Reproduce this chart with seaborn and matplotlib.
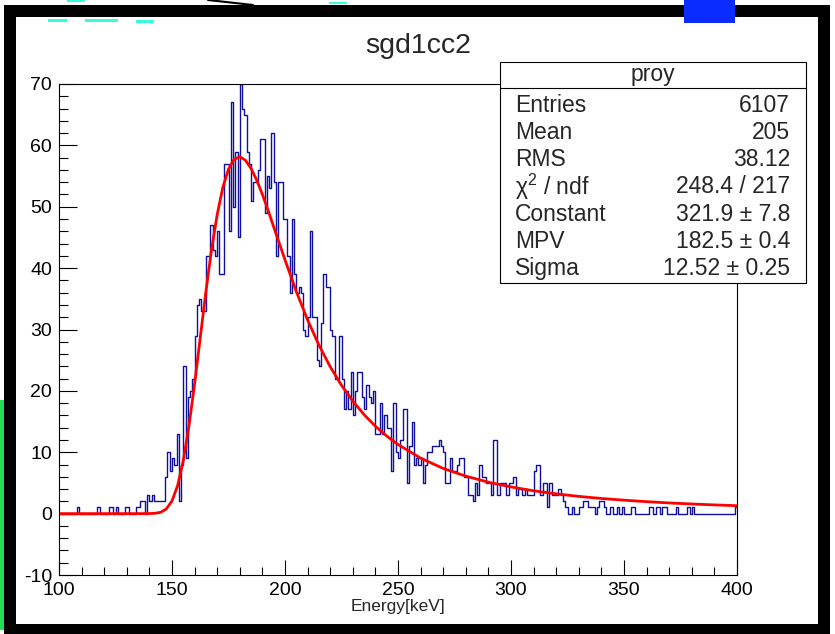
import numpy as np
import pandas as pd
import seaborn as sns
import matplotlib.pyplot as plt
from matplotlib.patches import Rectangle
from matplotlib.ticker import MultipleLocator

# -----------------------------
# DATA (1 keV bins, 100..400 keV)
# -----------------------------
counts_100 = [0, 0, 0, 0, 0, 0, 0, 0, 1, 0, 0, 0, 0, 0, 0, 0, 0, 1, 0, 0,
              0, 0, 1, 1, 0, 1, 0, 0, 0, 1, 1, 0, 0, 0, 1, 1, 2, 2, 0, 3,
              2, 3, 2, 2, 2, 2, 2, 6, 10, 7]
counts_150 = [9, 8, 13, 2, 8, 24, 9, 19, 20, 22, 29, 34, 35, 33, 33, 42, 42, 47, 43, 42,
              46, 39, 39, 57, 57, 46, 67, 50, 59, 45, 70, 66, 65, 59, 57, 51, 54, 54, 56, 61,
              61, 49, 55, 53, 62, 54, 42, 54, 54, 48]
counts_200 = [48, 42, 36, 48, 39, 36, 37, 36, 30, 29, 32, 46, 32, 32, 25, 24, 31, 39, 37, 37,
              30, 29, 22, 22, 29, 22, 17, 20, 17, 23, 16, 20, 23, 23, 19, 17, 21, 19, 18, 20,
              13, 13, 18, 13, 16, 14, 14, 7, 18, 10]
counts_250 = [9, 12, 17, 17, 5, 11, 15, 8, 9, 8, 9, 5, 8, 10, 10, 11, 11, 11, 12, 11,
              10, 5, 5, 9, 7, 7, 8, 9, 9, 6, 6, 3, 3, 2, 5, 3, 8, 6, 6, 5,
              5, 3, 12, 12, 3, 5, 5, 5, 3, 5]
counts_300 = [5, 6, 3, 4, 4, 3, 4, 3, 3, 3, 7, 8, 8, 3, 5, 5, 1, 5, 3, 3,
              3, 4, 3, 2, 1, 0, 0, 1, 0, 0, 1, 1, 2, 2, 1, 1, 1, 0, 1, 2,
              2, 1, 0, 0, 1, 0, 0, 1, 0, 1]
counts_350 = [0, 0, 0, 1, 1, 0, 0, 0, 0, 0, 0, 1, 1, 0, 1, 1, 0, 1, 1, 0,
              0, 0, 0, 1, 0, 0, 0, 0, 1, 0, 1, 0, 0, 0, 0, 0, 0, 0, 0, 0,
              0, 0, 0, 0, 0, 0, 0, 0, 0, 1]

# Landau fit curve
fit_x = [100, 135, 140, 142.5, 145, 147.5, 150, 152.5, 155, 157.5, 160, 162.5, 165, 167.5,
         170, 172.5, 175, 177.5, 180, 182.5, 185, 187.5, 190, 192.5, 195, 197.5, 200,
         205, 210, 215, 220, 225, 230, 235, 240, 245, 250, 260, 270, 280, 290, 300,
         310, 320, 330, 340, 350, 360, 370, 380, 390, 400]
fit_y = [0, 0, 0.01, 0.05, 0.22, 0.77, 2.07, 4.59, 8.65, 14.26, 21.13, 28.67, 36.16, 43.02,
         48.73, 53.16, 56.13, 57.73, 58.15, 57.57, 56.23, 54.32, 52.0, 49.45, 46.7, 44.04, 41.34,
         36.2, 31.56, 27.47, 23.94, 20.91, 18.33, 16.13, 14.24, 12.64, 11.26, 9.04, 7.36, 6.11,
         5.12, 4.35, 3.72, 3.22, 2.81, 2.47, 2.19, 1.95, 1.74, 1.57, 1.42, 1.29]

stat_labels = ["Entries", "Mean", "RMS", "χ$^{2}$ / ndf", "Constant", "MPV", "Sigma"]
stat_values = ["6107", "205", "38.12", "248.4 / 217", "321.9 ± 7.8", "182.5 ± 0.4", "12.52 ± 0.25"]

counts = counts_100 + counts_150 + counts_200 + counts_250 + counts_300 + counts_350
centers = [100.5 + i for i in range(len(counts))]
df = pd.DataFrame({"Energy": centers, "Counts": counts})

# -----------------------------
# PLOT
# -----------------------------
sns.set_style("white")
plt.rcParams["font.family"] = ["Liberation Sans", "DejaVu Sans"]
plt.rcParams["mathtext.fontset"] = "custom"
plt.rcParams["mathtext.rm"] = "Liberation Sans"
plt.rcParams["axes.unicode_minus"] = False

W, H = 835, 634
fig = plt.figure(figsize=(W / 100, H / 100), dpi=100)
fig.patch.set_facecolor("white")

# window decorations (pixel coordinates)
bg = fig.add_axes([0, 0, 1, 1], zorder=0)
bg.set_xlim(0, W)
bg.set_ylim(H, 0)
bg.axis("off")
for x0, y0, w, h, c in [(4, 5, 826, 12, "black"), (4, 5, 12, 629, "black"),
                        (818, 5, 12, 629, "black"), (4, 624, 826, 10, "black"),
                        (684, 0, 51, 23, "#0a2cff"), (0, 400, 4, 230, "#22dd55"),
                        (48, 19, 19, 3, "#33ffdd"), (85, 19, 33, 3, "#33ffdd"),
                        (136, 20, 18, 3, "#33ffdd"), (67, 0, 18, 2, "#33ffdd"),
                        (329, 2, 18, 2, "#33ffdd")]:
    bg.add_patch(Rectangle((x0, y0), w, h, color=c, lw=0))
bg.plot([208, 253], [0, 5], color="black", lw=1.5)

ax = fig.add_axes([59 / W, 1 - 575 / H, (737 - 59) / W, (575 - 84) / H], zorder=1)
sns.histplot(data=df, x="Energy", weights="Counts", binwidth=1, binrange=(100, 400),
             element="step", fill=False, color="#10109c", linewidth=1.0, ax=ax)
sns.lineplot(x=fit_x, y=fit_y, color="red", linewidth=2.0, sort=False, ax=ax)

ax.set_xlim(100, 400)
ax.set_ylim(-10, 70)
ax.xaxis.set_major_locator(MultipleLocator(50))
ax.xaxis.set_minor_locator(MultipleLocator(10))
ax.yaxis.set_major_locator(MultipleLocator(10))
ax.yaxis.set_minor_locator(MultipleLocator(2))
ax.tick_params(axis="both", which="both", direction="in", bottom=True, left=True,
               top=False, right=False, width=0.8, colors="black", labelsize=14)
ax.tick_params(axis="x", which="major", length=11, pad=5)
ax.tick_params(axis="x", which="minor", length=5.5)
ax.tick_params(axis="y", which="major", length=13, pad=5)
ax.tick_params(axis="y", which="minor", length=6.5)
for s in ax.spines.values():
    s.set_color("black")
    s.set_linewidth(0.8)
ax.set_xlabel("Energy[keV]", fontsize=12.5, labelpad=0)
ax.set_ylabel("")
ax.set_facecolor("white")

# title and stats box
fg = fig.add_axes([0, 0, 1, 1], zorder=3)
fg.set_xlim(0, W)
fg.set_ylim(H, 0)
fg.axis("off")
fg.patch.set_alpha(0)
fg.text(418, 46, "sgd1cc2", ha="center", va="center", fontsize=20.5)
fg.add_patch(Rectangle((500, 62), 306, 221, facecolor="white", edgecolor="black", lw=0.8))
fg.plot([500, 806], [88, 88], color="black", lw=0.8)
fg.text(653, 74, "proy", ha="center", va="center", fontsize=16.5)
for i, (lab, val) in enumerate(zip(stat_labels, stat_values)):
    y = 105 + i * 27.3
    fg.text(515, y, lab, ha="left", va="center", fontsize=16.5)
    fg.text(790, y, val, ha="right", va="center", fontsize=16.5)

plt.savefig("out.png", dpi=100)
